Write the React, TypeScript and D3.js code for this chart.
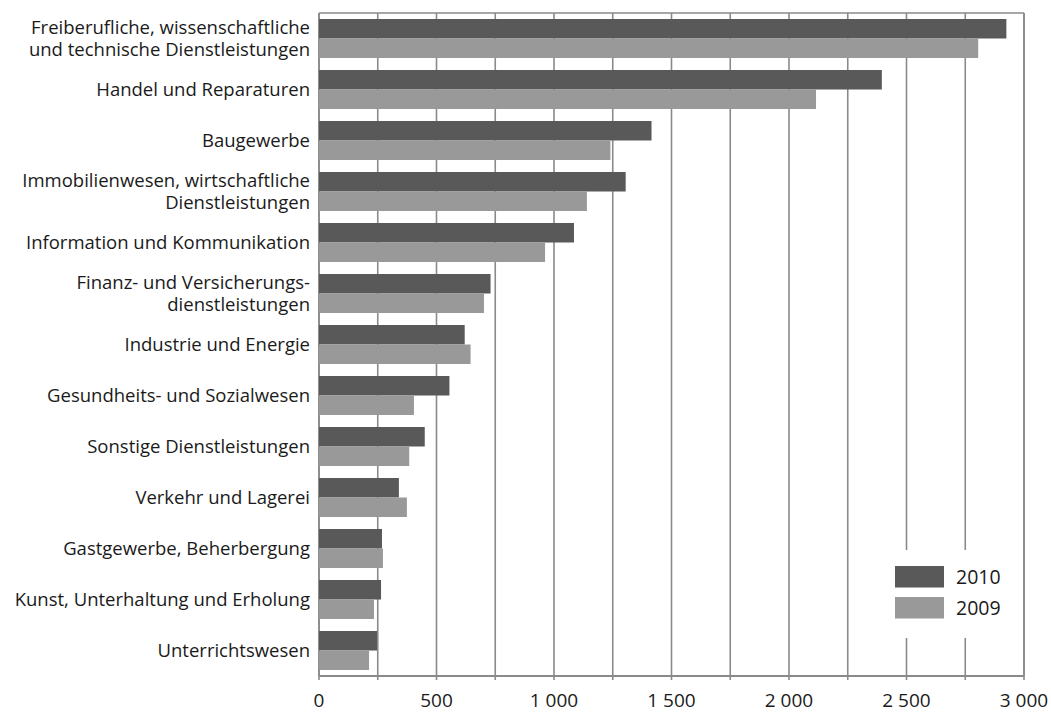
import React from "react";
import * as d3 from "d3";

const categories = [
  "Freiberufliche, wissenschaftliche\nund technische Dienstleistungen",
  "Handel und Reparaturen",
  "Baugewerbe",
  "Immobilienwesen, wirtschaftliche\nDienstleistungen",
  "Information und Kommunikation",
  "Finanz- und Versicherungs-\ndienstleistungen",
  "Industrie und Energie",
  "Gesundheits- und Sozialwesen",
  "Sonstige Dienstleistungen",
  "Verkehr und Lagerei",
  "Gastgewerbe, Beherbergung",
  "Kunst, Unterhaltung und Erholung",
  "Unterrichtswesen",
];

const values2010 = [2925, 2395, 1415, 1305, 1085, 730, 620, 555, 450, 340, 268, 264, 247];
const values2009 = [2805, 2115, 1240, 1140, 962, 702, 645, 404, 384, 374, 272, 234, 213];

const seriesNames = ["2010", "2009"];
const tickValues = [0, 500, 1000, 1500, 2000, 2500, 3000];
const gridValues = d3.range(0, 3001, 250);

const W = 1051;
const H = 713;
const margin = { left: 319, right: 27, top: 13, bottom: 37 };
const DARK = "#595959";
const LIGHT = "#999999";
const GRID = "#8a8a8a";
const FONT = "'Open Sans', sans-serif";

const formatTick = (v: number) =>
  v >= 1000 ? `${Math.floor(v / 1000)} ${String(v % 1000).padStart(3, "0")}` : String(v);

export default function App() {
  const x = d3
    .scaleLinear()
    .domain([0, 3000])
    .range([margin.left, W - margin.right]);
  const y = d3
    .scaleBand<number>()
    .domain(d3.range(categories.length))
    .range([margin.top, H - margin.bottom])
    .paddingInner(12 / 51)
    .paddingOuter(6 / 51);
  const inner = d3
    .scaleBand<number>()
    .domain([0, 1])
    .range([0, y.bandwidth()]);

  const series = [values2010, values2009];
  const colors = [DARK, LIGHT];
  const bottom = H - margin.bottom;
  const top = margin.top;
  const right = W - margin.right;

  // white box behind the legend
  const lg = { x: 880, y: 550, w: 130, h: 88 };

  return (
    <svg
      width={W}
      height={H}
      style={{ position: "absolute", left: 0, top: 0, background: "#fff" }}
      fontFamily={FONT}
    >
      {/* vertical gridlines every 250 */}
      {gridValues.map((v) => (
        <line
          key={"g" + v}
          x1={x(v)}
          x2={x(v)}
          y1={top}
          y2={bottom + 4}
          stroke={GRID}
          strokeWidth={1.6}
        />
      ))}
      {/* frame */}
      <line x1={margin.left} x2={right} y1={top} y2={top} stroke={GRID} strokeWidth={1.6} />
      <line x1={right} x2={right} y1={top} y2={bottom} stroke={GRID} strokeWidth={1.6} />
      <line x1={margin.left} x2={margin.left} y1={top} y2={bottom} stroke={GRID} strokeWidth={1.6} />

      {/* bars */}
      {series.map((vals, s) =>
        vals.map((v, i) => (
          <rect
            key={s + "-" + i}
            x={x(0)}
            y={(y(i) as number) + (inner(s) as number)}
            width={x(v) - x(0)}
            height={inner.bandwidth()}
            fill={colors[s]}
          />
        ))
      )}

      {/* bottom axis */}
      <line x1={margin.left} x2={right} y1={bottom} y2={bottom} stroke={GRID} strokeWidth={2} />
      {tickValues.map((v) => (
        <text
          key={"t" + v}
          x={x(v)}
          y={bottom + 31}
          textAnchor="middle"
          fontSize={19}
          fill="#1a1a1a"
        >
          {formatTick(v)}
        </text>
      ))}

      {/* category labels */}
      {categories.map((c, i) => {
        const lines = c.split("\n");
        const cy = (y(i) as number) + y.bandwidth() / 2;
        const lh = 22;
        const y0 = cy - ((lines.length - 1) * lh) / 2;
        return (
          <text
            key={"c" + i}
            x={margin.left - 9}
            textAnchor="end"
            fontSize={18.5}
            fill="#1a1a1a"
          >
            {lines.map((l, k) => (
              <tspan key={k} x={margin.left - 9} y={y0 + k * lh} dy="0.35em">
                {l}
              </tspan>
            ))}
          </text>
        );
      })}

      {/* legend */}
      <rect x={lg.x} y={lg.y} width={lg.w} height={lg.h} fill="#fff" />
      {seriesNames.map((n, s) => (
        <g key={"l" + n} transform={`translate(895, ${566 + s * 31})`}>
          <rect width={49} height={21.5} fill={colors[s]} />
          <text x={61} y={11} dy="0.35em" fontSize={19.5} fill="#1a1a1a">
            {n}
          </text>
        </g>
      ))}
    </svg>
  );
}
